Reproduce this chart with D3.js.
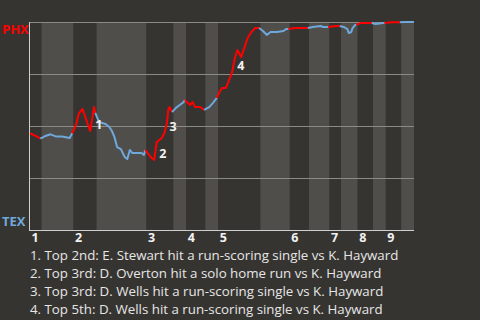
<!DOCTYPE html>
<html>
<head>
<meta charset="utf-8">
<script src="https://cdn.jsdelivr.net/npm/d3@7"></script>
<style>
	html, body { margin: 0; padding: 0; background: #363431; }
	svg { display: block; }
</style>
</head>
<body>
<div id="chart"></div>
<script>
// half innings, start pitch of each (game progress in pitches)
var halfLabels = ["T1","B1","T2","B2","T3","B3","T4","B4","T5","B5","T6","B6","T7","B7","T8","B8","T9","B9"];
var halfStarts = [0, 9, 34, 52, 91, 112, 122, 137, 147, 180, 203, 218, 234, 243, 256, 268, 278, 290];
var totalPitches = 300;
var inningLabels = ["1","2","3","4","5","6","7","8","9"];

// PHX win probability (%) after each play
var playPitch = [
	0, 4, 8,
	9, 12, 16, 20, 25, 28, 31, 33,
	36, 38, 41, 44, 47, 50, 51,
	54, 59, 62, 64, 66, 68, 71, 74, 76, 78, 80, 82, 87, 89, 90,
	92, 95, 97, 99, 103, 105, 107, 108, 109, 111,
	114, 117, 120, 121,
	125, 127, 129, 133, 136,
	140, 143, 146,
	148, 150, 153, 155, 158, 160, 162, 165, 168, 170, 173, 176, 179,
	182, 185, 188, 193, 198, 200, 202,
	207, 211, 217,
	221, 227, 229, 233,
	239, 242,
	245, 248, 249, 251, 252, 254, 255,
	258, 267,
	270, 276, 277,
	283, 289,
	293, 298, 300
];
var phxWinProb = [
	46.5, 45.4, 44.1,
	44.2, 45.2, 46.0, 45.0, 45.0, 44.6, 44.2, 46.5,
	50.5, 55.8, 58.2, 52.9, 47.6, 59.1, 56.3,
	51.9, 51.0, 49.5, 47.6, 44.7, 39.9, 38.9, 35.1, 34.1, 38.5, 37.0, 37.0, 37.0, 36.1, 38.5,
	37.0, 34.6, 33.7, 42.3, 44.2, 46.6, 51.4, 57.7, 59.1, 56.7,
	58.7, 60.1, 61.5, 62.5,
	60.1, 61.5, 59.1, 59.1, 57.7,
	59.1, 61.1, 63.5,
	66.3, 68.3, 68.3, 71.2, 76.0, 82.7, 86.5, 83.2, 88.5, 92.3, 95.2, 97.1, 97.1,
	95.7, 93.8, 95.2, 95.2, 95.7, 96.6, 96.6,
	97.1, 97.1, 97.1,
	97.6, 98.1, 97.6, 97.6,
	98.1, 98.1,
	97.6, 96.6, 94.7, 95.2, 97.1, 98.6, 98.6,
	99.5, 99.5,
	99.0, 99.5, 99.5,
	99.9, 99.9,
	100, 100, 100
];

// key plays: play index (before the swing) and caption
var keyPlayIdx = [15, 35, 38, 59];
var keyPlayText = [
	"1. Top 2nd: E. Stewart hit a run-scoring single vs K. Hayward",
	"2. Top 3rd: D. Overton hit a solo home run vs K. Hayward",
	"3. Top 3rd: D. Wells hit a run-scoring single vs K. Hayward",
	"4. Top 5th: D. Wells hit a run-scoring single vs K. Hayward"
];

var awayTeam = "PHX", homeTeam = "TEX";
var awayColor = "#ff0000", homeColor = "#6fa8dc";

var width = 480, height = 320;
var margin = {top: 22, right: 66, bottom: 90, left: 30};

var svg = d3.select("#chart").append("svg")
	.attr("width", width)
	.attr("height", height)
	.style("font-family", "'Open Sans', sans-serif");

var x = d3.scaleLinear()
	.domain([0, totalPitches])
	.range([margin.left, width - margin.right]);
var y = d3.scaleLinear()
	.domain([0, 100])
	.range([height - margin.bottom, margin.top]);

// alternating half inning bands
var halfEnds = halfStarts.slice(1).concat([totalPitches]);
svg.append("g")
	.selectAll("rect")
	.data(halfLabels)
	.enter().append("rect")
		.attr("x", function(d, i) { return x(halfStarts[i]); })
		.attr("width", function(d, i) { return x(halfEnds[i]) - x(halfStarts[i]); })
		.attr("y", y(100))
		.attr("height", y(0) - y(100))
		.attr("fill", function(d, i) { return i % 2 ? "#504e4b" : "#363431"; });

// horizontal grid
svg.append("g")
	.call(d3.axisLeft(y).tickValues([25, 50, 75, 100]).tickSize(-(x.range()[1] - x.range()[0])).tickFormat(""))
	.attr("transform", "translate(" + x.range()[0] + ",0)")
	.call(function(g) {
		g.select(".domain").remove();
		g.selectAll("line").attr("stroke", "#8c8a87").attr("stroke-width", 1);
	});

// axis lines
svg.append("line")
	.attr("x1", x(0) - 0.5).attr("x2", x(0) - 0.5)
	.attr("y1", y(100)).attr("y2", y(0))
	.attr("stroke", "#cfcfcf");
svg.append("line")
	.attr("x1", x(0) - 1).attr("x2", x(totalPitches))
	.attr("y1", y(0) + 0.5).attr("y2", y(0) + 0.5)
	.attr("stroke", "#cfcfcf");

// inning numbers at the start of each top half
var xAxis = d3.axisBottom(x)
	.tickValues(halfStarts.filter(function(d, i) { return i % 2 == 0; }))
	.tickSize(0)
	.tickFormat(function(d, i) { return inningLabels[i]; });
svg.append("g")
	.attr("transform", "translate(0," + y(0) + ")")
	.call(xAxis)
	.call(function(g) {
		g.select(".domain").remove();
		g.selectAll("text")
			.attr("text-anchor", "start")
			.attr("dx", 1)
			.attr("dy", null)
			.attr("y", 12)
			.attr("fill", "#f2f2f2")
			.style("font-size", "12.5px")
			.style("font-weight", "bold")
			.style("font-family", "'Open Sans', sans-serif");
	});

// team labels
svg.append("text")
	.attr("x", 2).attr("y", y(100) + 12)
	.attr("fill", awayColor)
	.style("font-size", "13px").style("font-weight", "bold")
	.text(awayTeam);
svg.append("text")
	.attr("x", 2).attr("y", y(0) - 4)
	.attr("fill", homeColor)
	.style("font-size", "13px").style("font-weight", "bold")
	.text(homeTeam);

// win probability line, one piece per half inning
var points = playPitch.map(function(p, i) { return {pitch: p, wp: phxWinProb[i], idx: i}; });
var line = d3.line()
	.x(function(d) { return x(d.pitch); })
	.y(function(d) { return y(d.wp); });

halfLabels.forEach(function(h, hi) {
	var seg = points.filter(function(d) { return d.pitch >= halfStarts[hi] && d.pitch < halfEnds[hi] || (hi == halfLabels.length - 1 && d.pitch == totalPitches); });
	if (!seg.length) return;
	if (seg[0].idx > 0) seg.unshift(points[seg[0].idx - 1]);
	svg.append("path")
		.datum(seg)
		.attr("fill", "none")
		.attr("stroke", hi % 2 ? homeColor : awayColor)
		.attr("stroke-width", 2)
		.attr("stroke-linejoin", "round")
		.attr("d", line);
});

// key play markers
svg.append("g")
	.selectAll("text")
	.data(keyPlayIdx)
	.enter().append("text")
		.attr("x", function(d) { return x(points[d].pitch) + 5; })
		.attr("y", function(d) { return y(points[d].wp) - 2; })
		.attr("fill", "#f2f2f2")
		.style("font-size", "12.5px")
		.style("font-weight", "bold")
		.text(function(d, i) { return i + 1; });

// captions
svg.append("g")
	.selectAll("text")
	.data(keyPlayText)
	.enter().append("text")
		.attr("x", 30)
		.attr("y", function(d, i) { return 260 + i * 18; })
		.attr("fill", "#e6e6e6")
		.style("font-size", "13.3px")
		.text(function(d) { return d; });
</script>
</body>
</html>
